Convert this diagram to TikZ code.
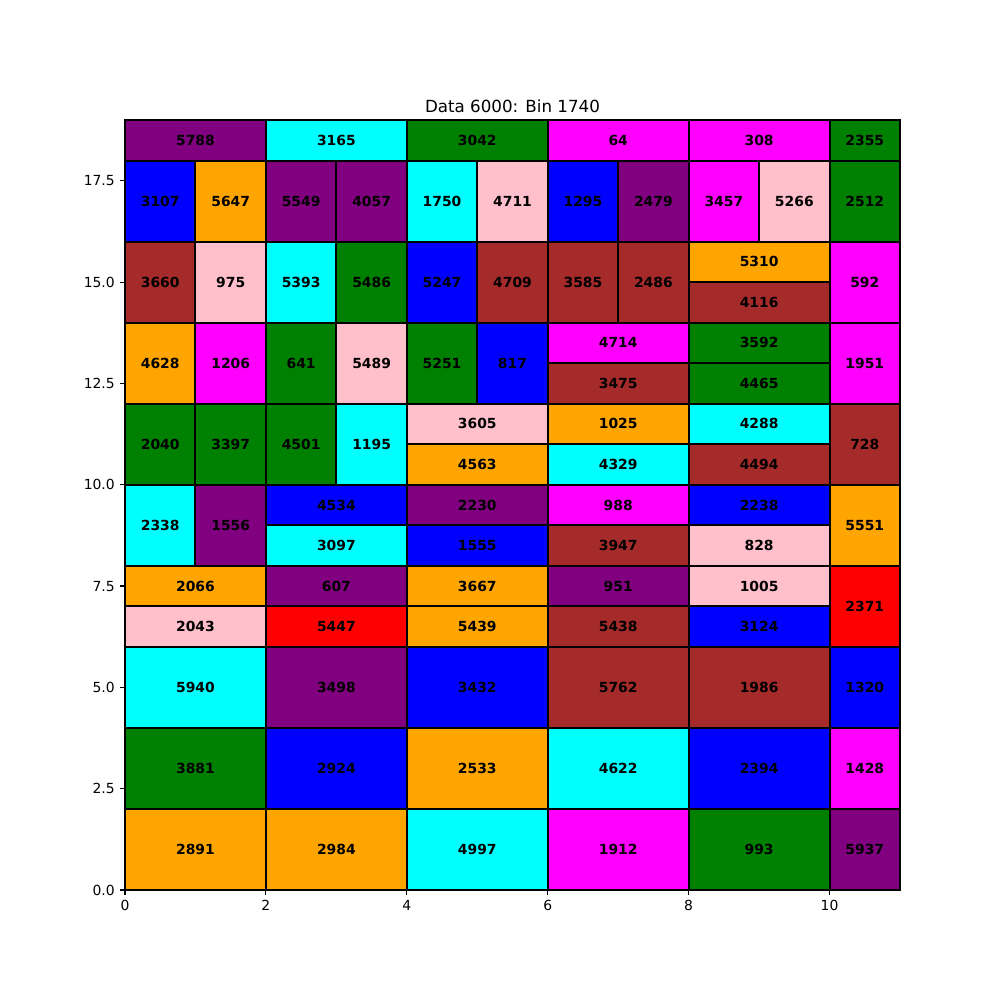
\documentclass[tikz,border=0pt]{standalone}
\usepackage{fontspec}
\setmainfont{DejaVu Sans}
\definecolor{mpurple}{HTML}{800080}
\definecolor{mcyan}{HTML}{00FFFF}
\definecolor{mgreen}{HTML}{008000}
\definecolor{mmagenta}{HTML}{FF00FF}
\definecolor{mblue}{HTML}{0000FF}
\definecolor{morange}{HTML}{FFA500}
\definecolor{mpink}{HTML}{FFC0CB}
\definecolor{mbrown}{HTML}{A52A2A}
\definecolor{mred}{HTML}{FF0000}
\begin{document}
\begin{tikzpicture}[x=70.4545pt, y=40.5263pt,
  box/.style={draw=black, line width=2pt, inner sep=0pt, outer sep=0pt, anchor=south west,
    font=\fontsize{13.9}{16}\selectfont\bfseries},
  ticklab/.style={font=\fontsize{13.9}{16}\selectfont, inner sep=0pt},
  spine/.style={line width=1.1pt, black}]
\useasboundingbox ([xshift=-125pt,yshift=-110pt]0,0) rectangle ++(1000pt,1000pt);
\foreach \x/\y/\w/\h/\c/\t in {
 0/18/2/1/mpurple/5788, 2/18/2/1/mcyan/3165, 4/18/2/1/mgreen/3042, 6/18/2/1/mmagenta/64, 8/18/2/1/mmagenta/308, 10/18/1/1/mgreen/2355,
 0/16/1/2/mblue/3107, 1/16/1/2/morange/5647, 2/16/1/2/mpurple/5549, 3/16/1/2/mpurple/4057, 4/16/1/2/mcyan/1750, 5/16/1/2/mpink/4711, 6/16/1/2/mblue/1295, 7/16/1/2/mpurple/2479, 8/16/1/2/mmagenta/3457, 9/16/1/2/mpink/5266, 10/16/1/2/mgreen/2512,
 0/14/1/2/mbrown/3660, 1/14/1/2/mpink/975, 2/14/1/2/mcyan/5393, 3/14/1/2/mgreen/5486, 4/14/1/2/mblue/5247, 5/14/1/2/mbrown/4709, 6/14/1/2/mbrown/3585, 7/14/1/2/mbrown/2486, 8/15/2/1/morange/5310, 8/14/2/1/mbrown/4116, 10/14/1/2/mmagenta/592,
 0/12/1/2/morange/4628, 1/12/1/2/mmagenta/1206, 2/12/1/2/mgreen/641, 3/12/1/2/mpink/5489, 4/12/1/2/mgreen/5251, 5/12/1/2/mblue/817, 6/13/2/1/mmagenta/4714, 6/12/2/1/mbrown/3475, 8/13/2/1/mgreen/3592, 8/12/2/1/mgreen/4465, 10/12/1/2/mmagenta/1951,
 0/10/1/2/mgreen/2040, 1/10/1/2/mgreen/3397, 2/10/1/2/mgreen/4501, 3/10/1/2/mcyan/1195, 4/11/2/1/mpink/3605, 4/10/2/1/morange/4563, 6/11/2/1/morange/1025, 6/10/2/1/mcyan/4329, 8/11/2/1/mcyan/4288, 8/10/2/1/mbrown/4494, 10/10/1/2/mbrown/728,
 0/8/1/2/mcyan/2338, 1/8/1/2/mpurple/1556, 2/9/2/1/mblue/4534, 2/8/2/1/mcyan/3097, 4/9/2/1/mpurple/2230, 4/8/2/1/mblue/1555, 6/9/2/1/mmagenta/988, 6/8/2/1/mbrown/3947, 8/9/2/1/mblue/2238, 8/8/2/1/mpink/828, 10/8/1/2/morange/5551,
 0/7/2/1/morange/2066, 0/6/2/1/mpink/2043, 2/7/2/1/mpurple/607, 2/6/2/1/mred/5447, 4/7/2/1/morange/3667, 4/6/2/1/morange/5439, 6/7/2/1/mpurple/951, 6/6/2/1/mbrown/5438, 8/7/2/1/mpink/1005, 8/6/2/1/mblue/3124, 10/6/1/2/mred/2371,
 0/4/2/2/mcyan/5940, 2/4/2/2/mpurple/3498, 4/4/2/2/mblue/3432, 6/4/2/2/mbrown/5762, 8/4/2/2/mbrown/1986, 10/4/1/2/mblue/1320,
 0/2/2/2/mgreen/3881, 2/2/2/2/mblue/2924, 4/2/2/2/morange/2533, 6/2/2/2/mcyan/4622, 8/2/2/2/mblue/2394, 10/2/1/2/mmagenta/1428,
 0/0/2/2/morange/2891, 2/0/2/2/morange/2984, 4/0/2/2/mcyan/4997, 6/0/2/2/mmagenta/1912, 8/0/2/2/mgreen/993, 10/0/1/2/mpurple/5937}
 {\node[box, fill=\c, minimum width=\w*70.4545pt, minimum height=\h*40.5263pt] (r\t) at (\x,\y) {\t};}
% axes spines
\coordinate (o) at (0,0);
\coordinate (tr) at (11,19);
\draw[spine] (o) rectangle (tr);
% x ticks
\foreach \v in {0,2,4,6,8,10} {
  \coordinate (xt\v) at (\v,0);
  \draw[spine] (xt\v) -- ++(0,-4.86pt) node[ticklab, anchor=north, yshift=-4.86pt] (xl\v) {\v};
}
% y ticks
\foreach \v/\l [count=\i] in {0/0.0, 2.5/2.5, 5/5.0, 7.5/7.5, 10/10.0, 12.5/12.5, 15/15.0, 17.5/17.5} {
  \coordinate (yt\i) at (0,\v);
  \draw[spine] (yt\i) -- ++(-4.86pt,0) node[ticklab, anchor=east, xshift=-4.86pt] (yl\i) {\l};
}
% title
\node[font=\fontsize{16.7}{20}\selectfont, anchor=base, inner sep=0pt] (title) at ([yshift=7pt]5.5,19) {Data 6000: Bin 1740};
\end{tikzpicture}
\end{document}
